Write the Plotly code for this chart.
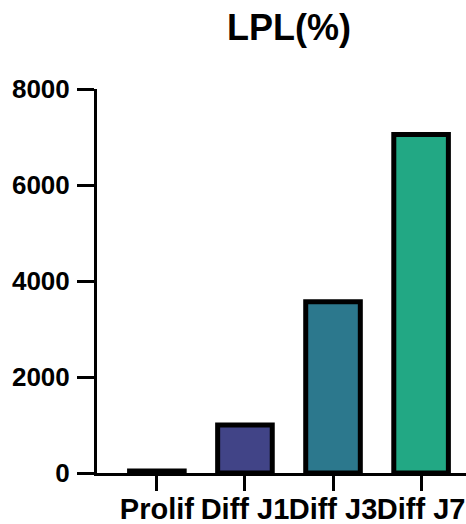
import plotly.graph_objects as go

categories = ["Prolif", "Diff J1", "Diff J3", "Diff J7"]
values = [40, 1000, 3570, 7050]
colors = ["#440154", "#414487", "#2c788d", "#22a884"]
y_ticks = [0, 2000, 4000, 6000, 8000]

FONT = "Liberation Sans, Arial, sans-serif"

fig = go.Figure(
    go.Bar(
        x=categories,
        y=values,
        width=0.62,
        marker=dict(color=colors, line=dict(color="black", width=5)),
    )
)

fig.update_layout(
    width=466,
    height=524,
    margin=dict(l=97, r=0, t=89, b=51),
    paper_bgcolor="white",
    plot_bgcolor="white",
    showlegend=False,
    font=dict(family=FONT, color="black"),
    title=dict(
        text="<b>LPL(%)</b>",
        font=dict(size=36, family=FONT, color="black"),
        x=289 / 466,
        xref="container",
        xanchor="center",
        y=1 - 27 / 524,
        yref="container",
        yanchor="middle",
    ),
    xaxis=dict(
        range=[-0.68, 3.51],
        automargin=False,
        showline=True,
        linecolor="black",
        linewidth=3,
        ticks="outside",
        ticklen=8,
        tickwidth=3,
        tickcolor="black",
        tickangle=0,
        tickfont=dict(size=29, family=FONT, color="black"),
        tickprefix="<b>",
        ticksuffix="</b>",
        showgrid=False,
        zeroline=False,
    ),
    xaxis2=dict(
        overlaying="x",
        matches="x",
        side="bottom",
        anchor="y",
        automargin=False,
        showline=False,
        ticks="outside",
        ticklen=17,
        tickwidth=3,
        tickcolor="black",
        showticklabels=False,
        showgrid=False,
        zeroline=False,
    ),
    yaxis=dict(
        range=[0, 8000],
        automargin=False,
        tickvals=y_ticks,
        ticktext=[f"<b>{v}</b>" for v in y_ticks],
        showline=True,
        linecolor="black",
        linewidth=3,
        ticks="outside",
        ticklen=17,
        tickwidth=3,
        tickcolor="black",
        ticklabelstandoff=2,
        tickfont=dict(size=26, family=FONT, color="black"),
        showgrid=False,
        zeroline=False,
    ),
)

# invisible trace to activate the tick-only overlay axis
fig.add_trace(
    go.Bar(x=categories, y=[None] * len(categories), xaxis="x2", yaxis="y",
           showlegend=False, hoverinfo="skip")
)

fig.write_html(
    "out.html",
    config={"displayModeBar": False, "staticPlot": True},
    post_script="document.body.style.margin='0';document.body.style.overflow='hidden';",
)
